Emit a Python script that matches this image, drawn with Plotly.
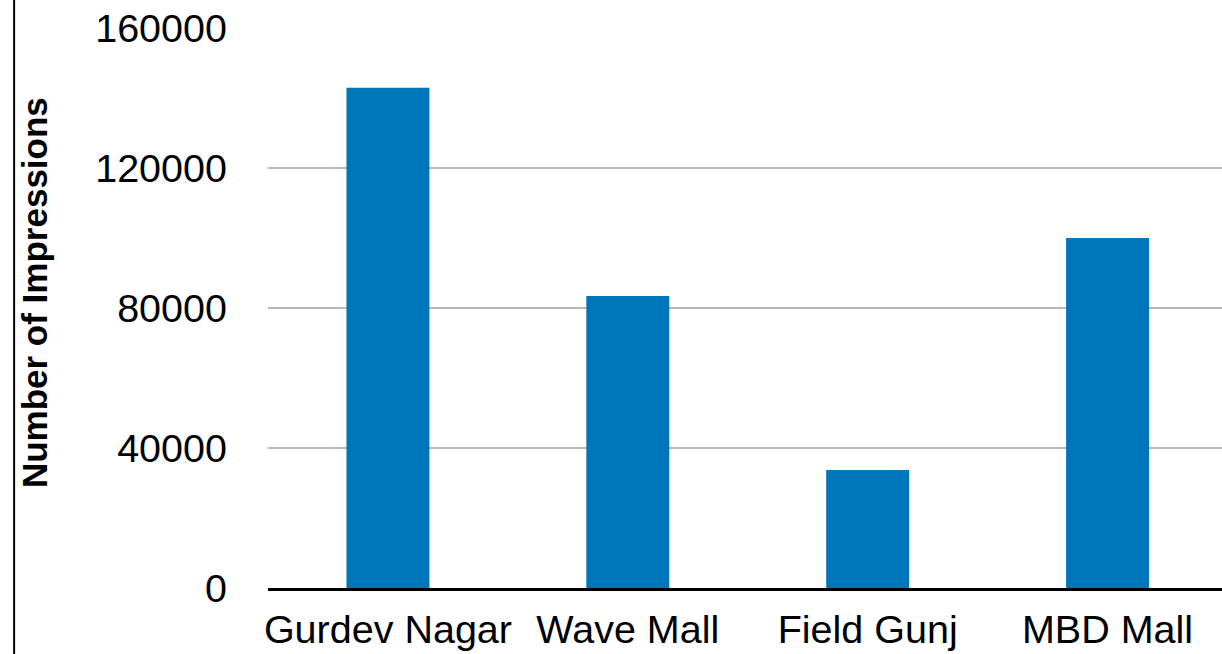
import plotly.graph_objects as go

# Impressions per location
locations = ["Gurdev Nagar", "Wave Mall", "Field Gunj", "MBD Mall"]
impressions = [142900, 83400, 33700, 100000]
y_ticks = [0, 40000, 80000, 120000, 160000]

W, H = 1222, 654
L, R, T, B = 267.5, 0, 28, 66
plot_w = W - L - R
plot_h = H - T - B

font_family = "Liberation Sans, Arial, Helvetica, sans-serif"

fig = go.Figure(
    go.Bar(
        x=locations,
        y=impressions,
        marker=dict(color="#0076BA", line=dict(width=0)),
        hoverinfo="x+y",
    )
)

# x range chosen so each category slot is 240 px and the plot runs to the right edge
x_end = -0.5 + plot_w / 240.0

fig.update_layout(
    width=W,
    height=H,
    margin=dict(l=L, r=R, t=T, b=B, pad=0),
    paper_bgcolor="white",
    plot_bgcolor="white",
    bargap=1 - 83 / 240,
    showlegend=False,
    font=dict(family=font_family, size=39.5, color="black"),
    xaxis=dict(
        range=[-0.5, x_end],
        showgrid=False,
        showline=True,
        linecolor="black",
        linewidth=2.5,
        ticks="",
        ticklabelstandoff=5,
        tickfont=dict(size=39.5, color="black"),
        zeroline=False,
    ),
    yaxis=dict(
        range=[0, 160000],
        tickvals=y_ticks,
        ticktext=[str(v) for v in y_ticks],
        showgrid=True,
        gridcolor="#b8b8b8",
        gridwidth=2,
        zeroline=False,
        showline=False,
        ticks="",
        ticklabelstandoff=40,
        tickfont=dict(size=39.5, color="black"),
    ),
)

# y-axis title placed as a rotated annotation
fig.add_annotation(
    text="<b>Number of Impressions</b>",
    xref="paper",
    yref="paper",
    x=(34 - L) / plot_w,
    y=(H - B - 292.5) / plot_h,
    xanchor="center",
    yanchor="middle",
    textangle=-90,
    showarrow=False,
    font=dict(family=font_family, size=35, color="black"),
)

# vertical frame line on the left side
fig.add_shape(
    type="line",
    xref="paper",
    yref="paper",
    x0=(13.5 - L) / plot_w,
    x1=(13.5 - L) / plot_w,
    y0=-B / plot_h,
    y1=(H - B) / plot_h,
    line=dict(color="black", width=2),
    layer="above",
)

fig.write_html("out.html")
